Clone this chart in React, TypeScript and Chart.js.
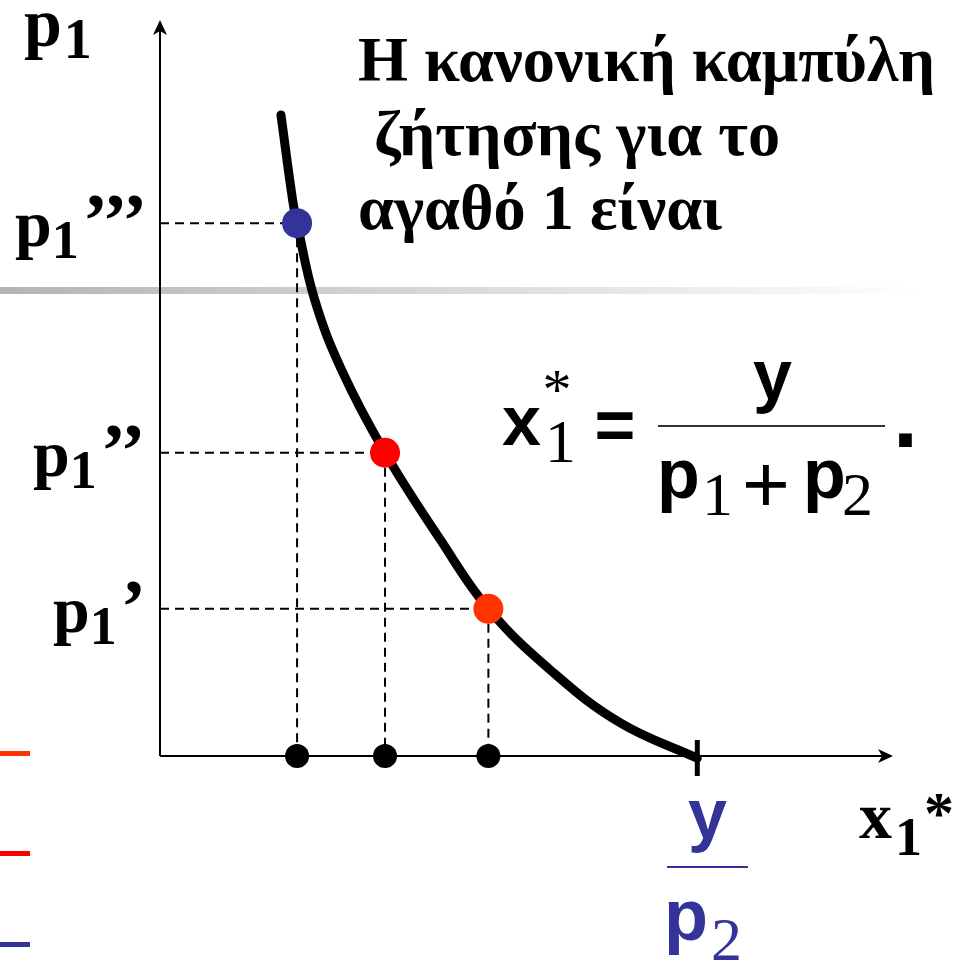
import React, { useEffect, useRef } from "react";
import { Chart, registerables } from "chart.js";

Chart.register(...registerables);

// ---- data (x = quantity of good 1, p = price of good 1) ----
const curveX = [1.65, 1.81, 1.87, 2.11, 2.48, 3.07, 3.83, 4.48, 5.37, 6.28, 7.33];
const curveP = [8.71, 7.55, 7.24, 6.2, 5.24, 4.12, 2.93, 2.0, 1.13, 0.45, -0.03];
const prices = [7.24, 4.12, 2.0]; // p1''', p1'', p1'
const demands = [1.87, 3.07, 4.48];
const primeCounts = [3, 2, 1];
const pointColors = ["#333399", "#FF0000", "#FF3300"];
const yOverP2 = 7.33;
const titleLines = ["Η κανονική καμπύλη", " ζήτησης για το", "αγαθό 1 είναι"];

const W = 968;
const H = 964;
const BLUE = "#333399";

const serifB = (s: number) => `bold ${s}px "Liberation Serif", "Times New Roman", serif`;
const serif = (s: number) => `${s}px "Liberation Serif", "Times New Roman", serif`;
const sansB = (s: number) => `bold ${s}px "Liberation Sans", Arial, sans-serif`;
const sans = (s: number) => `${s}px "Liberation Sans", Arial, sans-serif`;

function txt(ctx: CanvasRenderingContext2D, s: string, x: number, y: number, font: string, color = "#000", align: CanvasTextAlign = "left") {
  ctx.font = font;
  ctx.fillStyle = color;
  ctx.textAlign = align;
  ctx.textBaseline = "alphabetic";
  ctx.fillText(s, x, y);
  return ctx.measureText(s).width;
}

const decorPlugin = {
  id: "decor",
  beforeDatasetsDraw(chart: any) {
    const ctx: CanvasRenderingContext2D = chart.ctx;
    const xs = chart.scales.x;
    const ys = chart.scales.y;
    const x0 = xs.getPixelForValue(0);
    const y0 = ys.getPixelForValue(0);
    const ca = chart.chartArea;
    ctx.save();
    // slide template gradient bar
    const g = ctx.createLinearGradient(0, 0, 920, 0);
    g.addColorStop(0, "#b4b4b4");
    g.addColorStop(1, "#ffffff");
    ctx.fillStyle = g;
    ctx.fillRect(0, 287, 920, 7);
    // left coloured dashes
    ctx.fillStyle = "#FF3300";
    ctx.fillRect(0, 751, 30, 5);
    ctx.fillStyle = "#FF0000";
    ctx.fillRect(0, 851, 30, 5);
    ctx.fillStyle = BLUE;
    ctx.fillRect(0, 942, 30, 5);
    // axes
    ctx.strokeStyle = "#000";
    ctx.fillStyle = "#000";
    ctx.lineWidth = 2;
    ctx.beginPath();
    ctx.moveTo(x0, y0);
    ctx.lineTo(x0, ca.top + 8);
    ctx.moveTo(x0, y0);
    ctx.lineTo(ca.right - 8, y0);
    ctx.stroke();
    ctx.beginPath();
    ctx.moveTo(x0, ca.top);
    ctx.lineTo(x0 - 7, ca.top + 15);
    ctx.lineTo(x0, ca.top + 11);
    ctx.lineTo(x0 + 7, ca.top + 15);
    ctx.closePath();
    ctx.fill();
    ctx.beginPath();
    ctx.moveTo(ca.right, y0);
    ctx.lineTo(ca.right - 15, y0 - 7);
    ctx.lineTo(ca.right - 11, y0);
    ctx.lineTo(ca.right - 15, y0 + 7);
    ctx.closePath();
    ctx.fill();
    ctx.restore();
  },
  afterDatasetsDraw(chart: any) {
    const ctx: CanvasRenderingContext2D = chart.ctx;
    const xs = chart.scales.x;
    const ys = chart.scales.y;
    const y0 = ys.getPixelForValue(0);
    const xt = xs.getPixelForValue(yOverP2);
    ctx.save();
    ctx.strokeStyle = "#000";
    ctx.lineWidth = 5;
    ctx.beginPath();
    ctx.moveTo(xt, y0 - 16);
    ctx.lineTo(xt, y0 + 20);
    ctx.stroke();
    ctx.restore();
  },
  afterDraw(chart: any) {
    const ctx: CanvasRenderingContext2D = chart.ctx;
    const ys = chart.scales.y;
    ctx.save();
    // p1 axis label
    let w = txt(ctx, "p", 24, 46, serifB(68));
    txt(ctx, "1", 24 + w + 2, 58, serifB(56));

    // price labels
    const lefts = [15, 33, 53];
    prices.forEach((p, i) => {
      const base = ys.getPixelForValue(p) + 23;
      const l = lefts[i];
      const wp = txt(ctx, "p", l, base, serifB(66));
      const w1 = txt(ctx, "1", l + wp, base + 12, serifB(54));
      txt(ctx, "’".repeat(primeCounts[i]), l + wp + w1 + 4, base, serifB(76));
    });

    // title (fit first line to its width in the picture)
    ctx.font = serifB(60);
    const m = ctx.measureText(titleLines[0]).width;
    const ts = 60 * 577 / m;
    const bases = [81, 155, 229];
    titleLines.forEach((t, i) => txt(ctx, t, 358, bases[i], serifB(ts)));

    // formula x1* = y / (p1 + p2).
    txt(ctx, "x", 502, 445, sansB(70));
    txt(ctx, "1", 545, 462, serif(62));
    txt(ctx, "*", 557, 409, serif(58), "#000", "center");
    txt(ctx, "=", 615, 449, sansB(70), "#000", "center");
    ctx.strokeStyle = "#333";
    ctx.lineWidth = 2;
    ctx.beginPath();
    ctx.moveTo(658, 426);
    ctx.lineTo(885, 426);
    ctx.stroke();
    txt(ctx, "y", 753, 399, sansB(70));
    txt(ctx, "p", 657, 498, sansB(70));
    txt(ctx, "1", 702, 515, serif(62));
    txt(ctx, "+", 766, 512, sans(82), "#000", "center");
    txt(ctx, "p", 803, 498, sansB(70));
    txt(ctx, "2", 842, 515, serif(62));
    txt(ctx, ".", 893, 447, sansB(90));

    // y / p2 under the axis
    txt(ctx, "y", 688, 838, sansB(70), BLUE);
    ctx.strokeStyle = BLUE;
    ctx.lineWidth = 2;
    ctx.beginPath();
    ctx.moveTo(667, 867);
    ctx.lineTo(748, 867);
    ctx.stroke();
    txt(ctx, "p", 664, 940, sansB(72), BLUE);
    txt(ctx, "2", 711, 960, serif(62), BLUE);

    // x1* axis label
    txt(ctx, "x", 859, 838, serifB(66));
    txt(ctx, "1", 895, 855, serifB(54));
    txt(ctx, "*", 924, 833, serifB(60));
    ctx.restore();
  },
};

export default function App() {
  const ref = useRef<HTMLCanvasElement | null>(null);

  useEffect(() => {
    const canvas = ref.current;
    if (!canvas) return;
    const dashSets: any[] = [];
    prices.forEach((p, i) => {
      dashSets.push({
        data: [{ x: 0, y: p }, { x: demands[i], y: p }],
        showLine: true,
        borderColor: "#000",
        borderWidth: 2,
        borderDash: [9, 6],
        pointRadius: 0,
        order: 3,
      });
      dashSets.push({
        data: [{ x: demands[i], y: p }, { x: demands[i], y: 0 }],
        showLine: true,
        borderColor: "#000",
        borderWidth: 2,
        borderDash: [9, 6],
        pointRadius: 0,
        order: 3,
      });
    });
    const chart = new Chart(canvas, {
      type: "scatter",
      data: {
        datasets: [
          {
            data: prices.map((p, i) => ({ x: demands[i], y: p })),
            pointRadius: 15,
            pointBackgroundColor: pointColors,
            pointBorderWidth: 0,
            showLine: false,
            order: 0,
          },
          {
            data: demands.map((d) => ({ x: d, y: 0 })),
            pointRadius: 12,
            pointBackgroundColor: "#000",
            pointBorderWidth: 0,
            showLine: false,
            order: 1,
          },
          {
            data: curveX.map((x, i) => ({ x, y: curveP[i] })),
            showLine: true,
            borderColor: "#000",
            borderWidth: 9,
            borderCapStyle: "round",
            borderJoinStyle: "round",
            tension: 0.4,
            pointRadius: 0,
            order: 2,
          },
          ...dashSets,
        ],
      } as any,
      options: {
        animation: false,
        responsive: false,
        devicePixelRatio: 1,
        clip: false,
        layout: { padding: { left: 160, right: 75, top: 20, bottom: 208 } },
        scales: {
          x: { type: "linear", min: 0, max: 10, display: false },
          y: { type: "linear", min: 0, max: 10, display: false },
        },
        plugins: { legend: { display: false }, tooltip: { enabled: false } },
      } as any,
      plugins: [decorPlugin],
    });
    return () => chart.destroy();
  }, []);

  return (
    <div style={{ position: "absolute", left: 0, top: 0, width: W, height: H, background: "#fff" }}>
      <canvas ref={ref} width={W} height={H} style={{ display: "block", width: W, height: H }} />
    </div>
  );
}
